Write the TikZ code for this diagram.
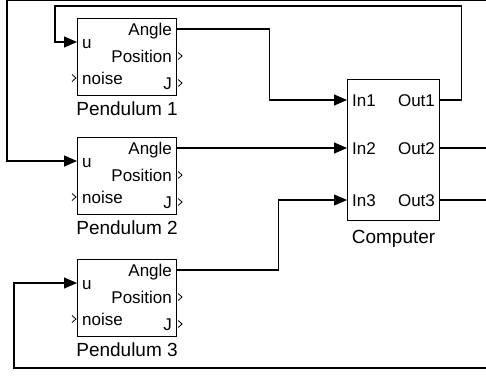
\documentclass[tikz,border=0pt]{standalone}
\usepackage{fontspec}
\setmainfont{Liberation Sans}
\usepackage{tikz}
\usetikzlibrary{positioning, calc, arrows.meta}

\tikzset{
	blk/.style={draw, line width=1.1pt, inner sep=0pt, anchor=north west},
	lbl/.style={font=\fontsize{17}{17}\selectfont, inner sep=0pt},
	blkname/.style={font=\fontsize{19}{19}\selectfont, inner sep=0pt, anchor=base},
	sig/.style={line width=1.1pt, -{Triangle[length=13pt,width=11pt]}},
	chev/.style={line width=0.8pt}
}

\begin{document}
\begin{tikzpicture}[x=1pt, y=-1pt]
	
	\useasboundingbox (0,0) rectangle (486,376);
	\clip (0,0) rectangle (486,376);
	
	%//pendulum blocks
	\foreach \i/\y in {1/18, 2/137, 3/259} {
		\node [blk, minimum width=99pt, minimum height=77pt] (p\i) at (77,\y) {};
		\coordinate (p\i-u) at ($(p\i.north west)+(0,24)$);
		\coordinate (p\i-n) at ($(p\i.north west)+(0,60)$);
		\coordinate (p\i-a) at ($(p\i.north east)+(0,11)$);
		\coordinate (p\i-p) at ($(p\i.north east)+(0,38)$);
		\coordinate (p\i-j) at ($(p\i.north east)+(0,65)$);
		\node [lbl, anchor=base west] (p\i-ul) at ($(p\i-u)+(5,6)$) {u};
		\node [lbl, anchor=base west] (p\i-nl) at ($(p\i-n)+(5,6)$) {noise};
		\node [lbl, anchor=base east] (p\i-al) at ($(p\i-a)+(-5,6)$) {Angle};
		\node [lbl, anchor=base east] (p\i-pl) at ($(p\i-p)+(-5,6)$) {Position};
		\node [lbl, anchor=base east] (p\i-jl) at ($(p\i-j)+(-5,6)$) {J};
		\node [blkname] (p\i-name) at ($(p\i.south)+(0,19)$) {Pendulum \i};
		
		% open ports
		\draw [chev] ($(p\i-p)+(1,-3.5)$) -- ++(4,3.5) -- ++(-4,3.5);
		\draw [chev] ($(p\i-j)+(1,-3.5)$) -- ++(4,3.5) -- ++(-4,3.5);
		\draw [chev] ($(p\i-n)+(-5,-3.5)$) -- ++(4,3.5) -- ++(-4,3.5);
	}
	
	%//computer block
	\node [blk, minimum width=92pt, minimum height=141pt] (comp) at (347,79) {};
	\foreach \k/\dy in {1/21, 2/69, 3/121} {
		\coordinate (c-in\k) at ($(comp.north west)+(0,\dy)$);
		\coordinate (c-out\k) at ($(comp.north east)+(0,\dy)$);
		\node [lbl, anchor=base west] (c-inl\k) at ($(c-in\k)+(5,6)$) {In\k};
		\node [lbl, anchor=base east] (c-outl\k) at ($(c-out\k)+(-5,6)$) {Out\k};
	}
	\node [blkname] (comp-name) at ($(comp.south)+(0,22)$) {Computer};
	
	%//signals
	\draw [sig] (p1-a) -- ++(92,0) |- (c-in1);
	\draw [sig] (p2-a) -- (c-in2);
	\draw [sig] (p3-a) -- ++(101,0) |- (c-in3);
	
	\coordinate (ret1) at (55,6);
	\coordinate (ret2) at (7,0);
	\coordinate (ret3) at (14,368);
	\draw [sig] (c-out1) -- ++(21,0) |- (ret1) |- (p1-u);
	\draw [sig] (c-out2) -- ++(60,0) |- (ret2) |- (p2-u);
	\draw [sig] (c-out3) -- ++(60,0) |- (ret3) |- (p3-u);
	
\end{tikzpicture}
\end{document}
